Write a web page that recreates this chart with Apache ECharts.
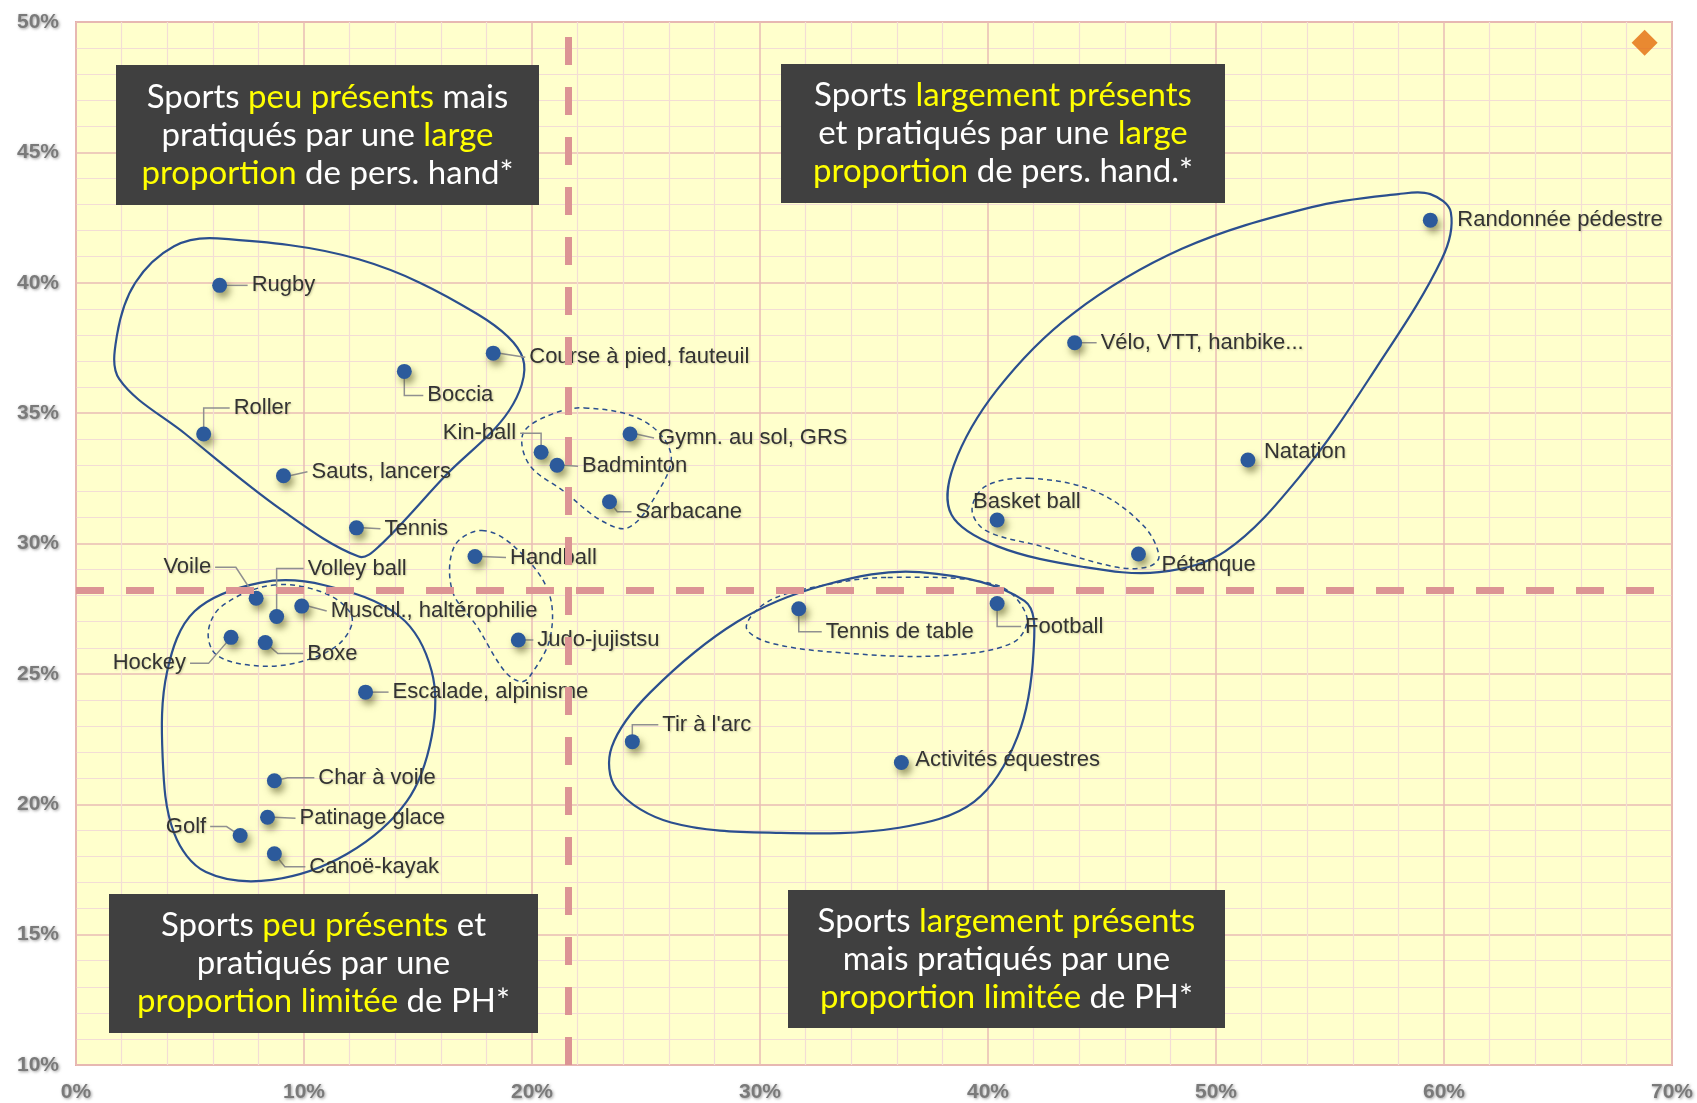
<!DOCTYPE html>
<html>
<head>
<meta charset="utf-8">
<script src="https://cdn.jsdelivr.net/npm/echarts@6/dist/echarts.min.js"></script>
<style>
html,body{margin:0;padding:0;background:#fff;}
#chart{width:1697px;height:1103px;}
</style>
</head>
<body>
<div id="chart"></div>
<script>
// sports : part des structures où le sport est présent (x) / part des pers. hand. qui le pratiquent (y)
var sports = ['Rugby', 'Course à pied, fauteuil', 'Boccia', 'Roller', 'Sauts, lancers', 'Tennis',
    'Kin-ball', 'Badminton', 'Gymn. au sol, GRS', 'Sarbacane', 'Handball', 'Voile', 'Volley ball',
    'Muscul., haltérophilie', 'Hockey', 'Boxe', 'Judo-jujistsu', 'Escalade, alpinisme', 'Char à voile',
    'Patinage glace', 'Golf', 'Canoë-kayak', "Tir à l'arc", 'Activités équestres', 'Tennis de table',
    'Football', 'Basket ball', 'Pétanque', 'Natation', 'Vélo, VTT, hanbike...', 'Randonnée pédestre'];
var presence = [6.3, 18.3, 14.4, 5.6, 9.1, 12.3,
    20.4, 21.1, 24.3, 23.4, 17.5, 7.9, 8.8,
    9.9, 6.8, 8.3, 19.4, 12.7, 8.7,
    8.4, 7.2, 8.7, 24.4, 36.2, 31.7,
    40.4, 40.4, 46.6, 51.4, 43.8, 59.4];
var practice = [39.9, 37.3, 36.6, 34.2, 32.6, 30.6,
    33.5, 33.0, 34.2, 31.6, 29.5, 27.9, 27.2,
    27.6, 26.4, 26.2, 26.3, 24.3, 20.9,
    19.5, 18.8, 18.1, 22.4, 21.6, 27.5,
    27.7, 30.9, 29.6, 33.2, 37.7, 42.4];

// seuils (lignes pointillées) et point orange
var refX = 21.6;
var refY = 28.2;
var markerPoint = [68.8, 49.2];

// axes
var xMin = 0, xMax = 70, xStep = 10;
var yMin = 10, yMax = 50, yStep = 5;

// contours dessinés à la main (en coordonnées du graphique)
var loopTopLeft = [[6.2, 41.7], [12.4, 40.9], [17.6, 38.8], [19.6, 37.1], [19.0, 35.1], [16.2, 32.6],
    [13.3, 29.9], [12.4, 29.5], [9.0, 31.3], [4.8, 34.2], [1.9, 36.3], [1.8, 38.0], [2.6, 40.0], [4.3, 41.4]];
var loopBottomLeft = [[8.1, 28.5], [10.9, 28.4], [14.2, 27.2], [15.6, 25.1], [15.6, 22.6], [14.5, 20.1],
    [11.9, 18.1], [8.6, 17.1], [5.7, 17.4], [4.3, 18.9], [3.8, 21.8], [4.0, 25.1], [5.2, 27.4]];
var loopMiddle = [[37.0, 28.9], [41.6, 27.8], [42.0, 25.9], [41.3, 22.6], [39.4, 20.1], [36.1, 19.1],
    [30.9, 18.9], [26.1, 19.3], [23.7, 20.6], [23.5, 22.2], [25.2, 24.3], [29.0, 27.0], [32.8, 28.4]];
var loopRight = [[59.4, 43.4], [60.3, 42.7], [59.9, 40.9], [57.0, 36.7], [53.7, 32.6], [50.4, 29.7],
    [47.5, 28.9], [44.2, 29.1], [40.4, 29.9], [38.4, 31.1], [38.5, 33.0], [40.4, 35.9], [43.7, 38.8],
    [48.5, 41.3], [54.2, 42.9], [58.0, 43.4]];
var dashVoile = [[8.6, 28.4], [10.9, 28.1], [12.1, 27.2], [11.6, 26.2], [10.0, 25.5], [8.1, 25.3],
    [6.2, 25.7], [5.8, 26.6], [6.4, 27.6]];
var dashHandball = [[17.8, 30.5], [19.2, 29.9], [20.7, 28.2], [20.8, 26.4], [19.9, 24.9], [19.5, 24.7],
    [18.8, 25.1], [17.6, 26.8], [16.5, 28.2], [16.6, 29.9]];
var dashBadminton = [[22.3, 35.2], [24.9, 34.7], [26.1, 33.4], [25.4, 31.8], [24.2, 30.6], [23.0, 30.9],
    [21.4, 32.0], [19.9, 33.0], [19.6, 34.2], [20.7, 34.9]];
var dashTennisTable = [[35.6, 28.7], [40.4, 28.4], [41.7, 27.2], [41.1, 26.2], [38.0, 25.7], [33.7, 25.8],
    [30.4, 26.2], [29.4, 26.8], [30.4, 27.8], [32.8, 28.4]];
var dashBasket = [[41.8, 32.5], [44.7, 32.0], [46.8, 30.7], [47.5, 29.5], [47.0, 29.1], [45.6, 29.1],
    [42.3, 29.9], [39.9, 30.5], [39.3, 31.3], [39.9, 32.2]];

var loops = [
    {pts: loopTopLeft, dashed: false},
    {pts: loopBottomLeft, dashed: false},
    {pts: loopMiddle, dashed: false},
    {pts: loopRight, dashed: false},
    {pts: dashVoile, dashed: true},
    {pts: dashHandball, dashed: true},
    {pts: dashBadminton, dashed: true},
    {pts: dashTennisTable, dashed: true},
    {pts: dashBasket, dashed: true}
];

// placement des étiquettes (décalage en px par rapport au point)
var labelPos = {
    'Rugby': {dx: 32, dy: 0, lead: 'h'},
    'Course à pied, fauteuil': {dx: 36, dy: 4, lead: 'h'},
    'Boccia': {dx: 23, dy: 24, lead: 'elbow'},
    'Roller': {dx: 30, dy: -26, lead: 'elbow'},
    'Sauts, lancers': {dx: 28, dy: -4, lead: 'h'},
    'Tennis': {dx: 28, dy: 1, lead: 'h'},
    'Kin-ball': {dx: -25, dy: -19, right: true, lead: 'elbow'},
    'Badminton': {dx: 25, dy: 1, lead: 'h'},
    'Gymn. au sol, GRS': {dx: 28, dy: 4, lead: 'h'},
    'Sarbacane': {dx: 26, dy: 10, lead: 'diag', k: 0.3},
    'Handball': {dx: 35, dy: 1, lead: 'h'},
    'Voile': {dx: -45, dy: -31, right: true, lead: 'diag', k: 0.45},
    'Volley ball': {dx: 31, dy: -48, lead: 'elbow'},
    'Muscul., haltérophilie': {dx: 29, dy: 5, lead: 'h'},
    'Hockey': {dx: -45, dy: 26, right: true, lead: 'diag', k: 0.5},
    'Boxe': {dx: 42, dy: 11, lead: 'diag', k: 0.3},
    'Judo-jujistsu': {dx: 19, dy: 0, lead: 'h'},
    'Escalade, alpinisme': {dx: 27, dy: 0, lead: 'h'},
    'Char à voile': {dx: 44, dy: -3, lead: 'diag', k: 0.3},
    'Patinage glace': {dx: 32, dy: 1, lead: 'h'},
    'Golf': {dx: -34, dy: -9, right: true, lead: 'diag', k: 0.4},
    'Canoë-kayak': {dx: 35, dy: 13, lead: 'diag', k: 0.3},
    "Tir à l'arc": {dx: 30, dy: -17, lead: 'elbow'},
    'Activités équestres': {dx: 14, dy: -3},
    'Tennis de table': {dx: 27, dy: 23, lead: 'elbow'},
    'Football': {dx: 28, dy: 23, lead: 'elbow'},
    'Basket ball': {dx: -24, dy: -18},
    'Pétanque': {dx: 23, dy: 11},
    'Natation': {dx: 16, dy: -8},
    'Vélo, VTT, hanbike...': {dx: 26, dy: 0, lead: 'h'},
    'Randonnée pédestre': {dx: 27, dy: 0}
};

var chart = echarts.init(document.getElementById('chart'));

var axisLabelStyle = {
    color: '#7a7a7a',
    fontSize: 21,
    fontWeight: 'bold',
    fontFamily: 'Liberation Sans',
    textShadowColor: 'rgba(90,90,90,0.6)',
    textShadowBlur: 3,
    textShadowOffsetX: 1,
    textShadowOffsetY: 1,
    formatter: '{value}%'
};

var renderSport = function (params, api) {
    var name = sports[params.dataIndex];
    var c = api.coord([api.value(0), api.value(1)]);
    var lay = labelPos[name] || {dx: 20, dy: 0};
    var s = lay.right ? -1 : 1;
    var children = [];
    var pts = null;
    if (lay.lead === 'h') {
        pts = [[c[0] + s * 6, c[1]], [c[0] + lay.dx - s * 4, c[1] + lay.dy]];
    } else if (lay.lead === 'elbow') {
        pts = [[c[0], c[1]], [c[0], c[1] + lay.dy], [c[0] + lay.dx - s * 4, c[1] + lay.dy]];
    } else if (lay.lead === 'diag') {
        pts = [[c[0], c[1]], [c[0] + lay.dx * lay.k, c[1] + lay.dy], [c[0] + lay.dx - s * 4, c[1] + lay.dy]];
    }
    if (pts) {
        children.push({
            type: 'polyline',
            shape: {points: pts},
            style: {stroke: '#909090', lineWidth: 1.5, fill: 'none'}
        });
    }
    children.push({
        type: 'circle',
        shape: {cx: c[0], cy: c[1], r: 7.5},
        style: {
            fill: '#2C5A9B',
            shadowBlur: 7,
            shadowColor: 'rgba(90,90,40,0.6)',
            shadowOffsetX: 3,
            shadowOffsetY: 5
        }
    });
    children.push({
        type: 'text',
        x: c[0] + lay.dx,
        y: c[1] + lay.dy,
        style: {
            text: name,
            fill: '#333333',
            fontSize: 22,
            fontFamily: 'Liberation Sans',
            align: lay.right ? 'right' : 'left',
            textAlign: lay.right ? 'right' : 'left',
            verticalAlign: 'middle',
            textVerticalAlign: 'middle',
            textShadowColor: 'rgba(120,120,80,0.35)',
            textShadowBlur: 2,
            textShadowOffsetX: 1,
            textShadowOffsetY: 1
        }
    });
    return {type: 'group', children: children};
};

var renderLoop = function (params, api) {
    var loop = loops[params.dataIndex];
    var pts = loop.pts.map(function (p) { return api.coord(p); });
    return {
        type: 'polygon',
        shape: {points: pts, smooth: 0.35},
        style: {
            fill: 'none',
            stroke: '#2B4F8E',
            lineWidth: loop.dashed ? 1.5 : 2.2,
            lineDash: loop.dashed ? [5, 4] : null
        }
    };
};

var makeBox = function (left, top, w, h, text) {
    return {
        type: 'group',
        left: left,
        top: top,
        z: 100,
        children: [
            {type: 'rect', z: 100, shape: {x: 0, y: 0, width: w, height: h}, style: {fill: '#404040'}},
            {
                type: 'text',
                z: 101,
                x: w / 2,
                y: h / 2,
                style: {
                    text: text,
                    fill: '#ffffff',
                    fontSize: 33,
                    fontFamily: 'Lato',
                    align: 'center',
                    verticalAlign: 'middle',
                    lineHeight: 38,
                    rich: {
                        w: {fill: '#ffffff', fontSize: 33, fontFamily: 'Lato', lineHeight: 38},
                        y: {fill: '#FFFF00', fontSize: 33, fontFamily: 'Lato', lineHeight: 38}
                    }
                }
            }
        ]
    };
};

var sportData = [];
for (var i = 0; i < sports.length; i++) {
    sportData.push([presence[i], practice[i]]);
}

var option = {
    animation: false,
    backgroundColor: '#ffffff',
    grid: {
        left: 76, right: 25, top: 22, bottom: 36,
        show: true,
        backgroundColor: '#FFFFCC',
        borderColor: '#E4ABA6',
        borderWidth: 2
    },
    xAxis: {
        type: 'value', min: xMin, max: xMax, interval: xStep,
        axisLine: {show: false},
        axisTick: {show: false},
        axisLabel: Object.assign({margin: 17}, axisLabelStyle),
        splitLine: {show: true, lineStyle: {color: '#E8BDB6', width: 1.5}},
        minorTick: {show: false, splitNumber: 5},
        minorSplitLine: {show: true, lineStyle: {color: '#F3DDD5', width: 1.2}}
    },
    yAxis: {
        type: 'value', min: yMin, max: yMax, interval: yStep,
        axisLine: {show: false},
        axisTick: {show: false},
        axisLabel: Object.assign({margin: 17}, axisLabelStyle),
        splitLine: {show: true, lineStyle: {color: '#E8BDB6', width: 1.5}},
        minorTick: {show: false, splitNumber: 5},
        minorSplitLine: {show: true, lineStyle: {color: '#F3DDD5', width: 1.2}}
    },
    series: [
        {
            type: 'scatter',
            z: 1,
            silent: true,
            symbol: 'diamond',
            symbolSize: 26,
            itemStyle: {color: '#E36C0A'},
            data: [markerPoint],
            markLine: {
                silent: true,
                symbol: 'none',
                label: {show: false},
                lineStyle: {color: '#DC9494', width: 7, type: [28, 22], opacity: 1},
                data: [{xAxis: refX}, {yAxis: refY}]
            }
        },
        {
            type: 'custom',
            z: 3,
            silent: true,
            renderItem: renderLoop,
            data: loops.map(function (l) { return l.pts[0]; })
        },
        {
            type: 'custom',
            z: 4,
            silent: true,
            renderItem: renderSport,
            data: sportData
        }
    ],
    graphic: [
        makeBox(116, 65, 423, 140,
            '{w|Sports }{y|peu présents}{w| mais}\n{w|pratiqués par une }{y|large}\n{y|proportion}{w| de pers. hand*}'),
        makeBox(781, 64, 444, 139,
            '{w|Sports }{y|largement présents}\n{w|et pratiqués par une }{y|large}\n{y|proportion}{w| de pers. hand.*}'),
        makeBox(109, 894, 429, 139,
            '{w|Sports }{y|peu présents}{w| et}\n{w|pratiqués par une}\n{y|proportion limitée}{w| de PH*}'),
        makeBox(788, 890, 437, 138,
            '{w|Sports }{y|largement présents}\n{w|mais pratiqués par une}\n{y|proportion limitée}{w| de PH*}')
    ]
};

chart.setOption(option);
</script>
</body>
</html>
